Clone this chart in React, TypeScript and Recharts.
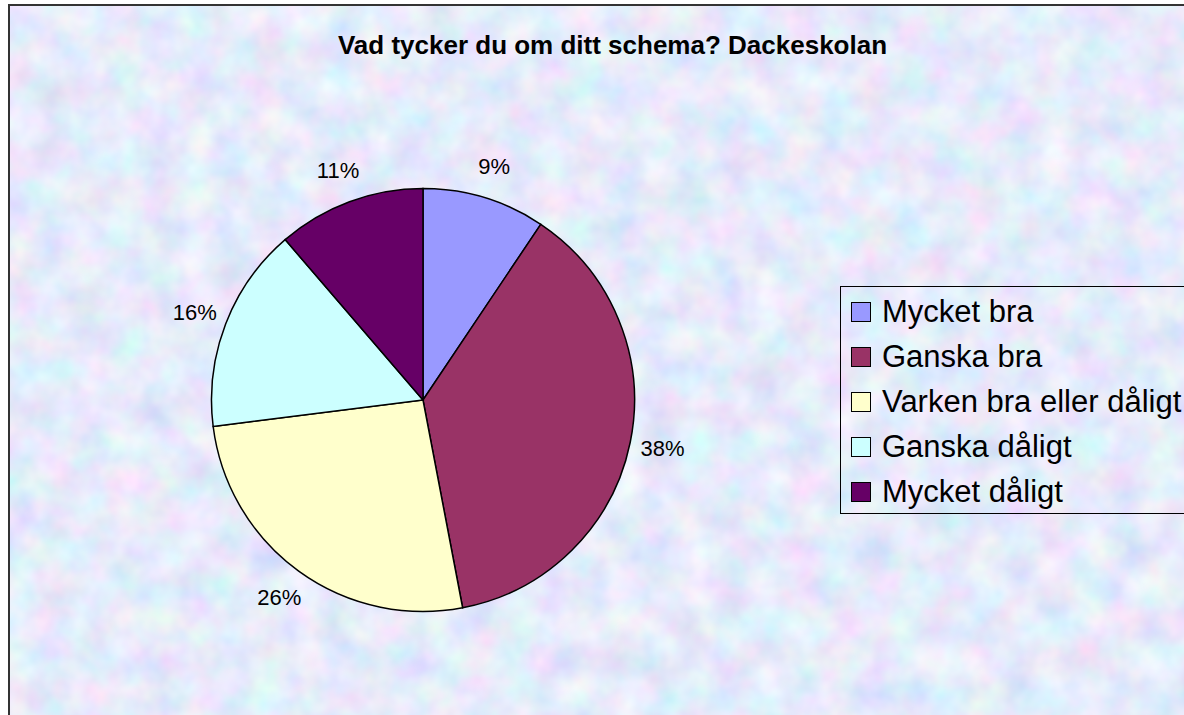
import { Cell, Legend, Pie, PieChart } from 'recharts'

const answers = ['Mycket bra', 'Ganska bra', 'Varken bra eller dåligt', 'Ganska dåligt', 'Mycket dåligt']
const shares = [9.4, 37.6, 26.0, 15.7, 11.3]
const sliceColors = ['#9999ff', '#993366', '#ffffcc', '#ccffff', '#660066']

const chartTitle = 'Vad tycker du om ditt schema? Dackeskolan'

const data = answers.map((name, i) => ({ name, value: shares[i] }))

const FONT = "'Liberation Sans', Arial, Helvetica, sans-serif"
const RAD = Math.PI / 180

function PercentLabel(props: any) {
  const { cx, cy, midAngle, outerRadius, percent } = props
  const r = outerRadius + 33
  const x = cx + r * Math.cos(-midAngle * RAD)
  const y = cy + r * Math.sin(-midAngle * RAD)
  return (
    <text
      x={x}
      y={y}
      textAnchor="middle"
      dominantBaseline="central"
      fill="#000"
      fontSize={22}
      fontFamily={FONT}
    >
      {`${Math.round(percent * 100)}%`}
    </text>
  )
}

function LegendBox({ payload }: any) {
  // keep the data order, recharts sorts by name otherwise
  const items = [...(payload || [])].sort(
    (a: any, b: any) => answers.indexOf(a.value) - answers.indexOf(b.value),
  )
  return (
    <div
      style={{
        border: '1px solid #000',
        height: 224,
        width: 400,
        boxSizing: 'content-box',
        paddingTop: 2,
        paddingLeft: 10,
        fontFamily: FONT,
        fontSize: 31,
        color: '#000',
      }}
    >
      {items.map((entry: any) => (
        <div key={entry.value} style={{ display: 'flex', alignItems: 'center', height: 45, whiteSpace: 'nowrap' }}>
          <span
            style={{
              display: 'inline-block',
              width: 18,
              height: 18,
              border: '1px solid #000',
              background: entry.color,
              marginRight: 11,
            }}
          />
          <span>{entry.value}</span>
        </div>
      ))}
    </div>
  )
}

export default function App() {
  return (
    <div style={{ position: 'absolute', left: 0, top: 0, width: 1184, height: 715, overflow: 'hidden', background: '#fff' }}>
      <svg width={1184} height={715} style={{ position: 'absolute', left: 0, top: 0 }}>
        <defs>
          <filter id="paper" x="0" y="0" width="100%" height="100%">
            <feTurbulence type="fractalNoise" baseFrequency="0.028" numOctaves={3} seed={7} />
            <feColorMatrix
              type="matrix"
              values="0.5 0 0 0 0.54  0 0.38 0 0 0.64  0 0 0.2 0 0.86  0 0 0 0 1"
            />
          </filter>
        </defs>
        <rect x={9} y={5} width={1200} height={730} fill="#c8d2f2" />
        <rect x={9} y={5} width={1200} height={730} filter="url(#paper)" />
        <rect x={9} y={5} width={1200} height={730} fill="none" stroke="#333" strokeWidth={2} />
      </svg>
      <div
        style={{
          position: 'absolute',
          left: 0,
          top: 31,
          width: 1225,
          textAlign: 'center',
          fontFamily: FONT,
          fontWeight: 'bold',
          fontSize: 26,
          lineHeight: '29px',
          color: '#000',
        }}
      >
        {chartTitle}
      </div>
      <div style={{ position: 'absolute', left: 0, top: 0 }}>
        <PieChart width={1184} height={715} margin={{ top: 0, right: 0, bottom: 0, left: 0 }}>
          <Pie
            data={data}
            dataKey="value"
            nameKey="name"
            cx={423}
            cy={400}
            outerRadius={211.5}
            startAngle={90}
            endAngle={-270}
            stroke="#000"
            strokeWidth={1.5}
            label={PercentLabel}
            labelLine={false}
            isAnimationActive={false}
          >
            {data.map((d, i) => (
              <Cell key={d.name} fill={sliceColors[i]} />
            ))}
          </Pie>
          <Legend
            layout="vertical"
            content={LegendBox}
            wrapperStyle={{ left: 840, top: 286, width: 420, height: 228 }}
          />
        </PieChart>
      </div>
    </div>
  )
}
